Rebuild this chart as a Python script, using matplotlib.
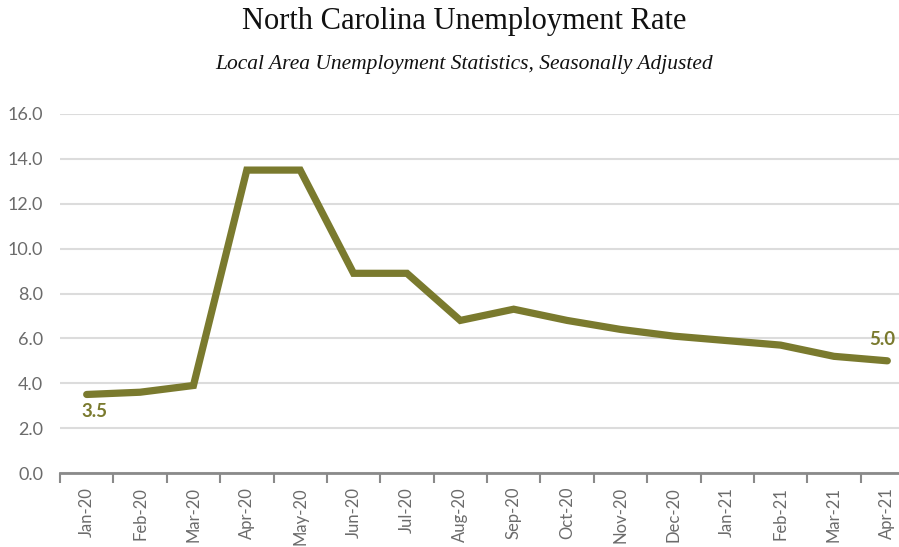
import matplotlib.pyplot as plt

months = ["Jan-20", "Feb-20", "Mar-20", "Apr-20", "May-20", "Jun-20", "Jul-20", "Aug-20",
          "Sep-20", "Oct-20", "Nov-20", "Dec-20", "Jan-21", "Feb-21", "Mar-21", "Apr-21"]
rate = [3.5, 3.6, 3.9, 13.5, 13.5, 8.9, 8.9, 6.8, 7.3, 6.8, 6.4, 6.1, 5.9, 5.7, 5.2, 5.0]
yticks = [0, 2, 4, 6, 8, 10, 12, 14, 16]

olive = "#7a7a2e"
grey = "#6b6b6b"

fig = plt.figure(figsize=(8.99, 5.47), dpi=100)
ax = fig.add_axes([60 / 899, 1 - 473 / 547, 854 / 899, (473 - 114) / 547])

x = list(range(len(months)))
ax.plot(x, rate, color=olive, lw=5.2, solid_capstyle="round", solid_joinstyle="miter", zorder=3)

ax.set_xlim(-0.5, len(months) - 0.5)
ax.set_ylim(0, 16)
ax.set_yticks(yticks)
ax.set_yticklabels([f"{v:.1f}" for v in yticks], fontsize=13, color=grey, family="Lato")
ax.grid(axis="y", color="#dcdcdc", lw=1.5, zorder=0)
ax.set_axisbelow(True)
ax.tick_params(axis="y", length=0, pad=12)

ax.set_xticks(x)
ax.set_xticklabels(months, rotation=90, fontsize=12, color=grey, family="Lato")
ax.set_xticks([i - 0.5 for i in range(len(months) + 1)], minor=True)
ax.tick_params(axis="x", which="major", length=0, pad=10)
ax.tick_params(axis="x", which="minor", length=7, width=1.5, color="#8a8a8a")

for s in ["top", "right", "left"]:
    ax.spines[s].set_visible(False)
ax.spines["bottom"].set_color("#8a8a8a")
ax.spines["bottom"].set_linewidth(2)

ax.text(x[0] + 0.15, rate[0] - 0.4, f"{rate[0]:.1f}", color=olive, fontsize=13.5,
        fontweight="bold", family="Lato", ha="center", va="top")
ax.text(x[-1] - 0.1, rate[-1] + 0.55, f"{rate[-1]:.1f}", color=olive, fontsize=13.5,
        fontweight="bold", family="Lato", ha="center", va="bottom")

fig.text(0.516, 1 - 22 / 547, "North Carolina Unemployment Rate", fontsize=22,
         family="Liberation Serif", ha="center", va="center", color="#111111")
fig.text(0.516, 1 - 64 / 547, "Local Area Unemployment Statistics, Seasonally Adjusted",
         fontsize=15.5, family="Liberation Serif", style="italic", ha="center", va="center",
         color="#111111")

fig.savefig("out.png", dpi=100)
